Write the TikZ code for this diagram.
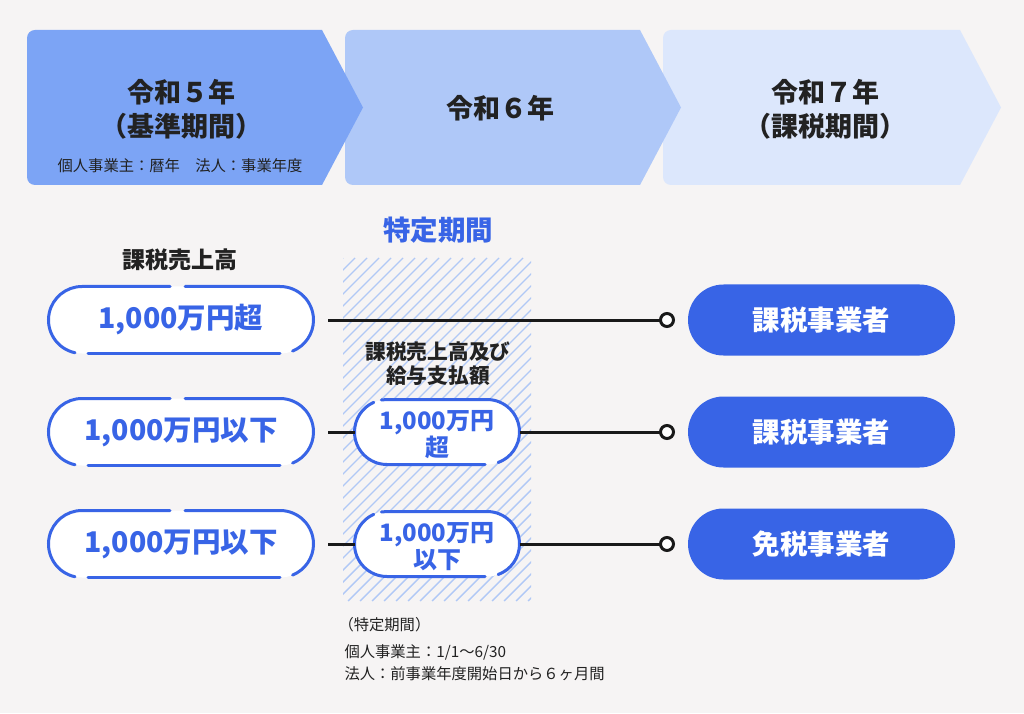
\documentclass[tikz,border=0pt]{standalone}
\usepackage{fontspec}
\setmainfont{Noto Sans CJK JP}
\usepackage{tikz}
\usetikzlibrary{positioning, shapes.misc, calc}
\definecolor{bgcol}{RGB}{246,244,244}
\definecolor{mainblue}{RGB}{56,100,230}
\definecolor{chevA}{RGB}{124,164,245}
\definecolor{chevB}{RGB}{175,200,248}
\definecolor{chevC}{RGB}{220,231,252}
\definecolor{hatchcol}{RGB}{176,200,246}
\definecolor{inkcol}{RGB}{34,34,34}
\tikzset{
    yearlbl/.style={font=\fontsize{27pt}{34pt}\selectfont\bfseries, text=inkcol, align=center},
    notelbl/.style={font=\fontsize{15.3pt}{18pt}\selectfont, text=inkcol},
    subhead/.style={font=\fontsize{20.7pt}{24pt}\selectfont\bfseries, text=inkcol, align=center},
    bluehead/.style={font=\fontsize{27.5pt}{32pt}\selectfont\bfseries, text=mainblue},
    bigpill/.style={rounded rectangle, fill=white, minimum width=265pt, minimum height=67pt, inner sep=0pt, outer sep=0pt, text=mainblue, font=\fontsize{28.5pt}{32pt}\selectfont\bfseries},
    smallpill/.style={rounded rectangle, fill=white, minimum width=165pt, minimum height=65pt, inner sep=0pt, outer sep=0pt, text=mainblue, align=center, font=\fontsize{24pt}{26.5pt}\selectfont\bfseries},
    result/.style={rounded rectangle, fill=mainblue, minimum width=267pt, minimum height=71pt, inner sep=0pt, outer sep=0pt, text=white, font=\fontsize{27.5pt}{32pt}\selectfont\bfseries},
    dot/.style={circle, draw=black!90, fill=white, line width=3pt, minimum size=13pt, inner sep=0pt, outer sep=0pt},
    link/.style={draw=black!90, line width=3pt},
    rim/.style={draw=mainblue, line width=3pt, line cap=round},
    hatch/.style={draw=hatchcol, line width=1.4pt},
}

\begin{document}
\begin{tikzpicture}[x=1pt,y=1pt]
    \fill[bgcol] (0,0) rectangle (1024,713);
    \useasboundingbox (0,0) rectangle (1024,713);
    % period bar
    \fill[chevC] (663,605.5) [rounded corners=8pt] -- (663,683) -- (763,683) [sharp corners] -- (960,683) -- (1001,605.5) -- (960,528) -- (763,528) [rounded corners=8pt] -- (663,528) -- cycle;
    \fill[chevB] (345,605.5) [rounded corners=8pt] -- (345,683) -- (445,683) [sharp corners] -- (640,683) -- (681,605.5) -- (640,528) -- (445,528) [rounded corners=8pt] -- (345,528) -- cycle;
    \fill[chevA] (27,605.5) [rounded corners=8pt] -- (27,683) -- (127,683) [sharp corners] -- (322,683) -- (363,605.5) -- (322,528) -- (127,528) [rounded corners=8pt] -- (27,528) -- cycle;
    \node [yearlbl] (y5) at (181,604) {令和５年\\（基準期間）};
    \node [notelbl] (y5note) at (180,547) {個人事業主：暦年　法人：事業年度};
    \node [yearlbl] (y6) at (500,605) {令和６年};
    \node [yearlbl] (y7) at (825,604) {令和７年\\（課税期間）};

    % specific period
    \node [bluehead] (tokutei) at (438,483) {特定期間};
    \begin{scope}
        \clip (343,112) rectangle (531,455);
        \foreach \i in {0,12,...,540}
            \draw[hatch] (\i,112) -- ++(343,343);
    \end{scope}
    \node [subhead, font=\fontsize{23pt}{26pt}\selectfont\bfseries] (sales) at (180,453) {課税売上高};
    \node [subhead] (salary) at (438,349) {課税売上高及び\\給与支払額};

    % pills
    \node [bigpill] (p1) at (181,393) {1,000万円超};
    \node [bigpill] (p2) [below = 45pt of p1] {1,000万円以下};
    \node [bigpill] (p3) [below = 45pt of p2] {1,000万円以下};
    \node [smallpill] (m2) [right = 41pt of p2] {};
    \node [smallpill] (m3) [below = 47pt of m2] {};
    \node [smallpill, fill=none] (m2txt) at ([yshift=-2.5pt]m2.center) {1,000万円\\超};
    \node [smallpill, fill=none] (m3txt) at ([yshift=-2.5pt]m3.center) {1,000万円\\以下};
    \node [result] (r1) [right = 374.5pt of p1] {課税事業者};
    \node [result] (r2) [below = 41pt of r1] {課税事業者};
    \node [result] (r3) [below = 41pt of r2] {免税事業者};
    \foreach \p in {p1,p2,p3} {
        \draw[rim] ([shift={(-99,0)}]\p.center) ++(258:33.5) arc[start angle=258, end angle=90, radius=33.5] -- ([shift={(-11,33.5)}]\p.center);
        \draw[rim] ([shift={(4,33.5)}]\p.center) -- ([shift={(99,33.5)}]\p.center) arc[start angle=90, end angle=-68, radius=33.5];
        \draw[rim] ([shift={(99,-33.5)}]\p.center) -- ([shift={(-93,-33.5)}]\p.center);
    }
    \foreach \m in {m2,m3} {
        \draw[rim] ([shift={(-50,0)}]\m.center) ++(100:32.5) arc[start angle=100, end angle=90, radius=32.5] -- ([shift={(50,32.5)}]\m.center) arc[start angle=90, end angle=-70, radius=32.5];
        \draw[rim] ([shift={(48,-32.5)}]\m.center) -- ([shift={(-50,-32.5)}]\m.center) arc[start angle=270, end angle=114, radius=32.5];
    }

    % links
    \node [dot] (d1) [left = 14.5pt of r1] {};
    \node [dot] (d2) [left = 14.5pt of r2] {};
    \node [dot] (d3) [left = 14.5pt of r3] {};
    \draw[link, shorten <=14.5pt] (p1.east) -- (d1.west);
    \draw[link, shorten <=14.5pt] (p2.east) -- (m2.west);
    \draw[link] (m2.east) -- (d2.west);
    \draw[link, shorten <=14.5pt] (p3.east) -- (m3.west);
    \draw[link] (m3.east) -- (d3.west);

    % notes
    \node [notelbl, anchor=west] (n1) at (335,88) {（特定期間）};
    \node [notelbl, anchor=west] (n2) at (341,61) {個人事業主：1/1〜6/30};
    \node [notelbl, anchor=west] (n3) at (341,39) {法人：前事業年度開始日から６ヶ月間};
\end{tikzpicture}
\end{document}
